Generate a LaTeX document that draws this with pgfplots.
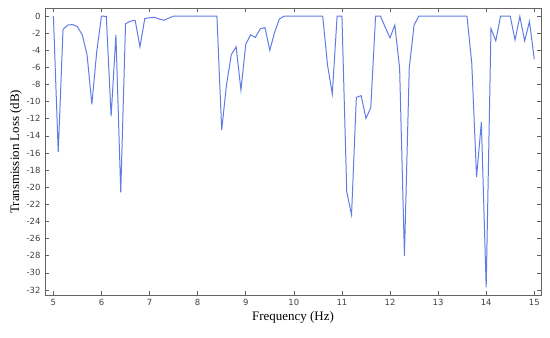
\documentclass[border=0pt]{standalone}
\usepackage{pgfplots}
\pgfplotsset{compat=1.18}
\usepackage{fontspec}
\setmainfont{Liberation Serif}
\newfontfamily\tickfont{DejaVu Sans}
\definecolor{tlblue}{RGB}{96,124,226}
\definecolor{framegray}{RGB}{100,100,100}
\pgfplotstableread{
x y
5.0 0
5.1 -15.9
5.2 -1.56
5.3 -1.05
5.4 -1.0
5.5 -1.25
5.6 -2.2
5.7 -4.55
5.8 -10.3
5.9 -4.2
6.0 0
6.1 -0.05
6.2 -11.7
6.3 -2.2
6.4 -20.6
6.5 -0.9
6.6 -0.6
6.7 -0.5
6.8 -3.6
6.9 -0.3
7.0 -0.2
7.1 -0.15
7.2 -0.35
7.3 -0.5
7.4 -0.25
7.5 0
7.6 0
7.7 0
7.8 0
7.9 0
8.0 0
8.1 0
8.2 0
8.3 0
8.4 0
8.5 -13.3
8.6 -8.0
8.7 -4.5
8.8 -3.6
8.9 -8.65
9.0 -3.3
9.1 -2.2
9.2 -2.5
9.3 -1.5
9.4 -1.35
9.5 -4.0
9.6 -1.9
9.7 -0.35
9.8 0
9.9 0
10.0 0
10.1 0
10.2 0
10.3 0
10.4 0
10.5 0
10.6 0
10.7 -5.7
10.8 -9.1
10.9 0
11.0 0
11.1 -20.5
11.2 -23.2
11.3 -9.5
11.4 -9.3
11.5 -11.95
11.6 -10.7
11.7 0
11.8 0
11.9 -1.3
12.0 -2.55
12.1 -1.05
12.2 -6.1
12.3 -28.0
12.4 -6.1
12.5 -1.05
12.6 0
12.7 0
12.8 0
12.9 0
13.0 0
13.1 0
13.2 0
13.3 0
13.4 0
13.5 0
13.6 0
13.7 -5.5
13.8 -18.8
13.9 -12.4
14.0 -31.7
14.1 -1.45
14.2 -2.9
14.3 0
14.4 0
14.5 0
14.6 -2.8
14.7 -0.05
14.8 -2.9
14.9 -0.65
15.0 -5.05
}\tldata
\begin{document}
\begin{tikzpicture}[x=1bp,y=1bp]
\begin{axis}[
  scale only axis,
  width=496bp, height=286.5bp,
  xmin=4.825, xmax=15.14,
  ymin=-32.58, ymax=0.88,
  xtick={5,6,...,15},
  ytick={-32,-30,...,0},
  tick align=inside,
  major tick length=4bp,
  axis line style={framegray, line width=0.7pt},
  every tick/.style={framegray, line width=0.6pt},
  tick label style={font=\tickfont\fontsize{8.5}{10}\selectfont, text=black!75},
  /pgf/number format/assume math mode=true,
  xticklabel style={yshift=-1bp},
  yticklabel style={xshift=-1bp},
  xlabel={Frequency (Hz)},
  ylabel={Transmission Loss (dB)},
  label style={font=\fontsize{13}{15}\selectfont},
  xlabel style={yshift=1bp},
  ylabel style={yshift=-2bp},
]
\addplot[tlblue, line width=1pt, no marks] table[x=x,y=y] {\tldata};
\coordinate (sw) at (rel axis cs:0,0);
\coordinate (ne) at (rel axis cs:1,1);
\end{axis}
\path ([shift={(-45bp,-43bp)}]sw) rectangle ([shift={(9bp,8.5bp)}]ne);
\end{tikzpicture}
\end{document}
